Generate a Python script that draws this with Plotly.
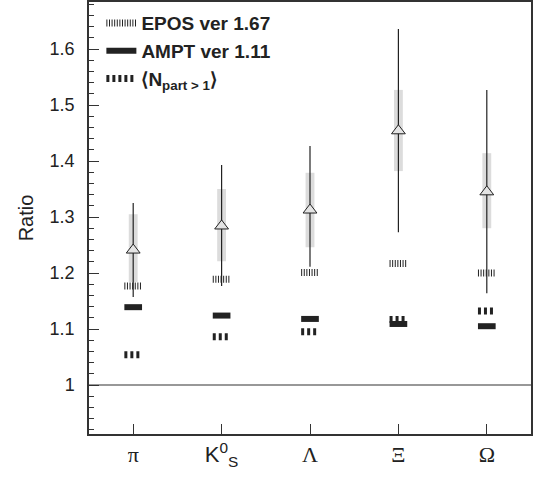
import plotly.graph_objects as go

categories = ["π",
              "<span style='font-family:Liberation Sans, Arial, sans-serif'>K<sup>0</sup><sub>S</sub></span>",
              "Λ", "Ξ", "Ω"]
x_pos = [1, 2, 3, 4, 5]
ratio = [1.241, 1.284, 1.3125, 1.454, 1.345]
stat_hi = [1.325, 1.393, 1.427, 1.636, 1.527]
stat_lo = [1.157, 1.177, 1.211, 1.273, 1.164]
sys_hi = [1.305, 1.350, 1.379, 1.527, 1.414]
sys_lo = [1.184, 1.221, 1.246, 1.382, 1.280]
epos = [1.177, 1.189, 1.201, 1.217, 1.200]
ampt = [1.139, 1.124, 1.118, 1.109, 1.105]
npart = [1.054, 1.086, 1.095, 1.117, 1.132]

HALF = 0.1


def segs(vals):
    xs, ys = [], []
    for xi, v in zip(x_pos, vals):
        xs += [xi - HALF, xi + HALF, None]
        ys += [v, v, None]
    return xs, ys


fig = go.Figure()

# systematic bands
fig.add_trace(go.Bar(
    x=x_pos, base=sys_lo, y=[h - l for h, l in zip(sys_hi, sys_lo)],
    width=0.1, marker=dict(color="#dcdcdc", line=dict(width=0)),
    showlegend=False, hoverinfo="skip"))

ex, ey = segs(epos)
fig.add_trace(go.Scatter(x=ex, y=ey, mode="lines", name="EPOS ver 1.67",
                         line=dict(color="#222", width=7, dash="1px,1.6px"),
                         legendgroup="a"))
ax_, ay_ = segs(ampt)
fig.add_trace(go.Scatter(x=ax_, y=ay_, mode="lines", name="AMPT ver 1.11",
                         line=dict(color="#222", width=6),
                         legendgroup="b"))
nx, ny = segs(npart)
fig.add_trace(go.Scatter(x=nx, y=ny, mode="lines",
                         name="⟨N<sub>part > 1</sub>⟩",
                         line=dict(color="#222", width=7, dash="3px,3px"),
                         legendgroup="c"))

fig.add_trace(go.Scatter(
    x=x_pos, y=ratio, mode="markers", showlegend=False,
    marker=dict(symbol="triangle-up", size=12, color="#e4e4e4",
                line=dict(color="#222", width=1)),
    error_y=dict(type="data", symmetric=False,
                 array=[h - r for h, r in zip(stat_hi, ratio)],
                 arrayminus=[r - l for r, l in zip(ratio, stat_lo)],
                 color="#222", thickness=1.2, width=0)))

fig.add_shape(type="line", xref="paper", x0=0, x1=1, yref="y", y0=1, y1=1,
              line=dict(color="#333", width=1.2))

fig.update_layout(
    width=537, height=480,
    margin=dict(l=89, r=6, t=2, b=46, autoexpand=False),
    paper_bgcolor="white", plot_bgcolor="white",
    barmode="overlay",
    font=dict(family="Liberation Sans, Arial, sans-serif", color="#222"),
    legend=dict(x=0.028, y=0.995, xanchor="left", yanchor="top",
                bgcolor="rgba(0,0,0,0)", traceorder="grouped",
                tracegroupgap=0,
                font=dict(size=19, family="Liberation Sans, Arial, sans-serif",
                          weight="bold", color="#222")),
    xaxis=dict(range=[0.5, 5.5], tickvals=x_pos, ticktext=categories,
               ticks="inside", ticklen=10, tickcolor="#333", tickwidth=1.2,
               showline=True, linecolor="#333", linewidth=1.5, mirror=True,
               showgrid=False, zeroline=False, automargin=False,
               tickfont=dict(family="Liberation Serif, Times New Roman, serif",
                             size=22, color="#222")),
    yaxis=dict(range=[0.9125, 1.684], tickvals=[1, 1.1, 1.2, 1.3, 1.4, 1.5, 1.6],
               ticktext=["1", "1.1", "1.2", "1.3", "1.4", "1.5", "1.6"],
               ticks="inside", ticklen=10, tickcolor="#333", tickwidth=1.2,
               ticklabelstandoff=9, automargin=False,
               minor=dict(dtick=0.02, tick0=1, ticks="inside", ticklen=5,
                          tickcolor="#333", tickwidth=1, showgrid=False),
               showline=True, linecolor="#333", linewidth=1.5, mirror=True,
               showgrid=False, zeroline=False,
               tickfont=dict(size=18, color="#222"),
               title=dict(text="Ratio", font=dict(size=20, color="#222"),
                          standoff=11)),
)

fig.write_html("out.html", config={"displayModeBar": False},
               post_script="document.body.style.margin='0px';document.body.style.padding='0px';")
